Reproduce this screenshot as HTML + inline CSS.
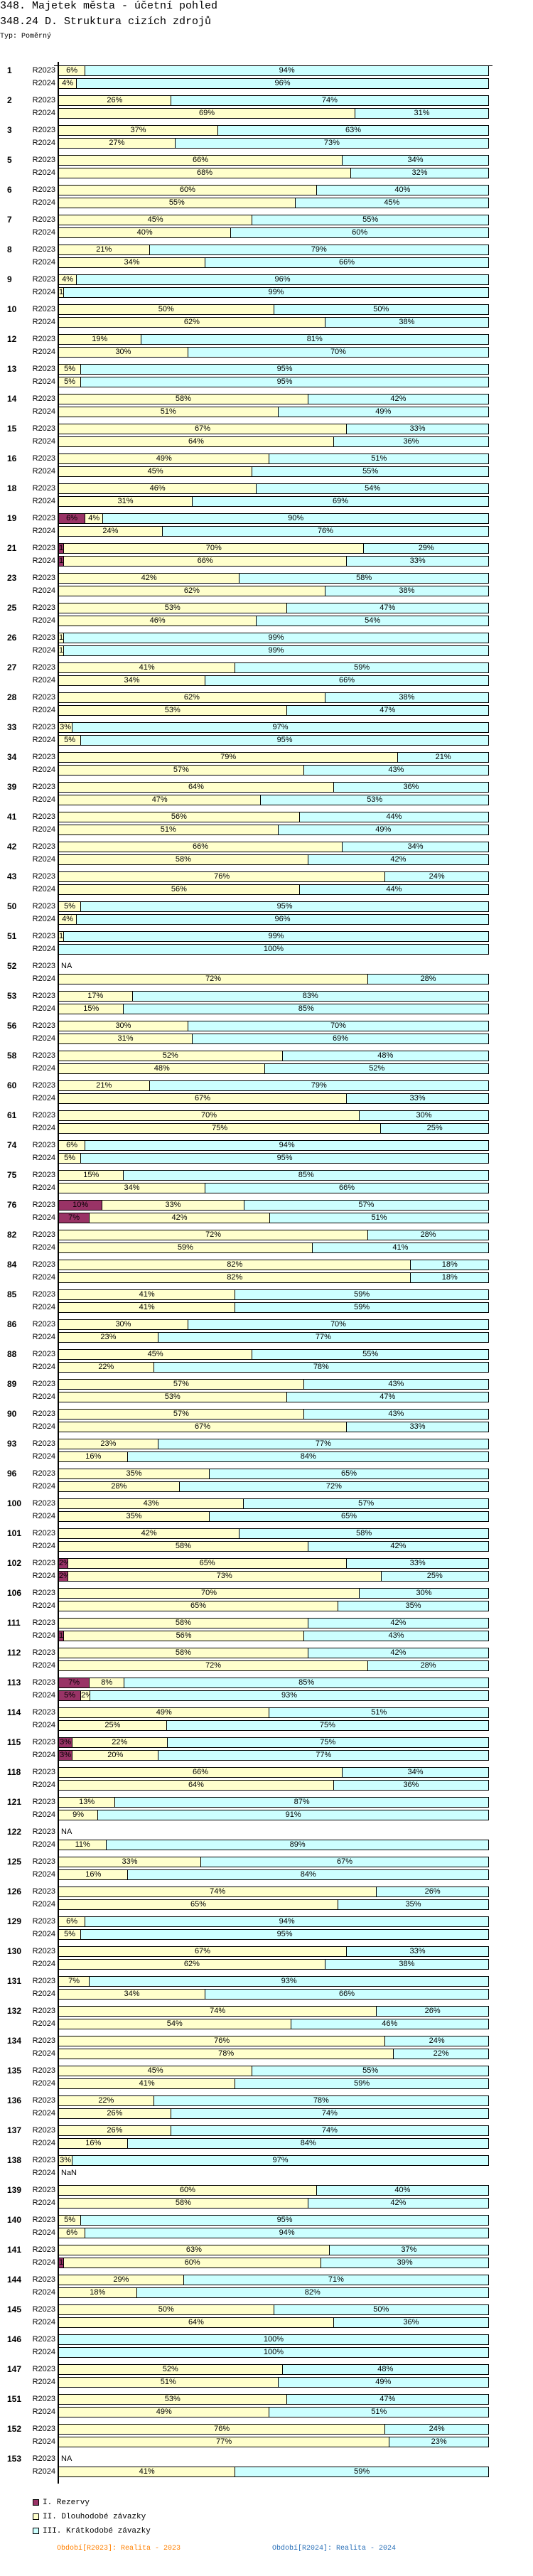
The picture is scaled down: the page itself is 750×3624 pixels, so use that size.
<!DOCTYPE html>
<html><head><meta charset="utf-8">
<style>
*{margin:0;padding:0}
body{width:750px;height:3624px;background:#fff;position:relative;overflow:hidden;font-family:"Liberation Sans",sans-serif;color:#000}
.t{position:absolute;left:0;font-family:"Liberation Mono",monospace;white-space:nowrap}
.g{position:absolute;left:0;width:750px;height:33px}
.g i{position:absolute;left:10px;top:0;font:bold 12px/15px "Liberation Sans",sans-serif;font-style:normal}
.g p{position:relative;height:15px;margin:0 0 3px}
.g u{position:absolute;right:672px;top:0;text-decoration:none;font-size:11px;line-height:15px}
.g b{position:absolute;left:82px;top:0;width:606px;height:15px;box-sizing:border-box;border:1px solid #000;display:flex;font-weight:normal}
.g s{text-decoration:none;flex-basis:0;min-width:0;text-align:center;font-size:11px;line-height:13px;white-space:nowrap;overflow:visible}
.g s+s{border-left:1px solid #000}
.y{background:#ffffcc}.c{background:#ccffff}.m{background:#993366}
.na{position:absolute;left:86px;top:0;font-size:11px;line-height:15px}
.lg{position:absolute;left:46px;width:7px;height:7px;border:1px solid #000}
</style></head><body>
<div class="t" style="top:0;font-size:15px;line-height:17px">348. Majetek města - účetní pohled</div>
<div class="t" style="top:22px;font-size:15px;line-height:17px">348.24 D. Struktura cizích zdrojů</div>
<div class="t" style="top:46px;font-size:10px;line-height:12px">Typ: Poměrný</div>
<div style="position:absolute;left:81px;top:87px;width:2px;height:3407px;background:#000"></div>
<div style="position:absolute;left:76px;top:92px;width:617px;height:1px;background:#000"></div>

<div class="g" style="top:92px"><i>1</i><p><u>R2023</u><b><s class=y style="flex-grow:6">6%</s><s class=c style="flex-grow:94">94%</s></b></p><p><u>R2024</u><b><s class=y style="flex-grow:4">4%</s><s class=c style="flex-grow:96">96%</s></b></p></div>
<div class="g" style="top:134px"><i>2</i><p><u>R2023</u><b><s class=y style="flex-grow:26">26%</s><s class=c style="flex-grow:74">74%</s></b></p><p><u>R2024</u><b><s class=y style="flex-grow:69">69%</s><s class=c style="flex-grow:31">31%</s></b></p></div>
<div class="g" style="top:176px"><i>3</i><p><u>R2023</u><b><s class=y style="flex-grow:37">37%</s><s class=c style="flex-grow:63">63%</s></b></p><p><u>R2024</u><b><s class=y style="flex-grow:27">27%</s><s class=c style="flex-grow:73">73%</s></b></p></div>
<div class="g" style="top:218px"><i>5</i><p><u>R2023</u><b><s class=y style="flex-grow:66">66%</s><s class=c style="flex-grow:34">34%</s></b></p><p><u>R2024</u><b><s class=y style="flex-grow:68">68%</s><s class=c style="flex-grow:32">32%</s></b></p></div>
<div class="g" style="top:260px"><i>6</i><p><u>R2023</u><b><s class=y style="flex-grow:60">60%</s><s class=c style="flex-grow:40">40%</s></b></p><p><u>R2024</u><b><s class=y style="flex-grow:55">55%</s><s class=c style="flex-grow:45">45%</s></b></p></div>
<div class="g" style="top:302px"><i>7</i><p><u>R2023</u><b><s class=y style="flex-grow:45">45%</s><s class=c style="flex-grow:55">55%</s></b></p><p><u>R2024</u><b><s class=y style="flex-grow:40">40%</s><s class=c style="flex-grow:60">60%</s></b></p></div>
<div class="g" style="top:344px"><i>8</i><p><u>R2023</u><b><s class=y style="flex-grow:21">21%</s><s class=c style="flex-grow:79">79%</s></b></p><p><u>R2024</u><b><s class=y style="flex-grow:34">34%</s><s class=c style="flex-grow:66">66%</s></b></p></div>
<div class="g" style="top:386px"><i>9</i><p><u>R2023</u><b><s class=y style="flex-grow:4">4%</s><s class=c style="flex-grow:96">96%</s></b></p><p><u>R2024</u><b><s class=y style="flex-grow:1">1%</s><s class=c style="flex-grow:99">99%</s></b></p></div>
<div class="g" style="top:428px"><i>10</i><p><u>R2023</u><b><s class=y style="flex-grow:50">50%</s><s class=c style="flex-grow:50">50%</s></b></p><p><u>R2024</u><b><s class=y style="flex-grow:62">62%</s><s class=c style="flex-grow:38">38%</s></b></p></div>
<div class="g" style="top:470px"><i>12</i><p><u>R2023</u><b><s class=y style="flex-grow:19">19%</s><s class=c style="flex-grow:81">81%</s></b></p><p><u>R2024</u><b><s class=y style="flex-grow:30">30%</s><s class=c style="flex-grow:70">70%</s></b></p></div>
<div class="g" style="top:512px"><i>13</i><p><u>R2023</u><b><s class=y style="flex-grow:5">5%</s><s class=c style="flex-grow:95">95%</s></b></p><p><u>R2024</u><b><s class=y style="flex-grow:5">5%</s><s class=c style="flex-grow:95">95%</s></b></p></div>
<div class="g" style="top:554px"><i>14</i><p><u>R2023</u><b><s class=y style="flex-grow:58">58%</s><s class=c style="flex-grow:42">42%</s></b></p><p><u>R2024</u><b><s class=y style="flex-grow:51">51%</s><s class=c style="flex-grow:49">49%</s></b></p></div>
<div class="g" style="top:596px"><i>15</i><p><u>R2023</u><b><s class=y style="flex-grow:67">67%</s><s class=c style="flex-grow:33">33%</s></b></p><p><u>R2024</u><b><s class=y style="flex-grow:64">64%</s><s class=c style="flex-grow:36">36%</s></b></p></div>
<div class="g" style="top:638px"><i>16</i><p><u>R2023</u><b><s class=y style="flex-grow:49">49%</s><s class=c style="flex-grow:51">51%</s></b></p><p><u>R2024</u><b><s class=y style="flex-grow:45">45%</s><s class=c style="flex-grow:55">55%</s></b></p></div>
<div class="g" style="top:680px"><i>18</i><p><u>R2023</u><b><s class=y style="flex-grow:46">46%</s><s class=c style="flex-grow:54">54%</s></b></p><p><u>R2024</u><b><s class=y style="flex-grow:31">31%</s><s class=c style="flex-grow:69">69%</s></b></p></div>
<div class="g" style="top:722px"><i>19</i><p><u>R2023</u><b><s class=m style="flex-grow:6">6%</s><s class=y style="flex-grow:4">4%</s><s class=c style="flex-grow:90">90%</s></b></p><p><u>R2024</u><b><s class=y style="flex-grow:24">24%</s><s class=c style="flex-grow:76">76%</s></b></p></div>
<div class="g" style="top:764px"><i>21</i><p><u>R2023</u><b><s class=m style="flex-grow:1">1%</s><s class=y style="flex-grow:70">70%</s><s class=c style="flex-grow:29">29%</s></b></p><p><u>R2024</u><b><s class=m style="flex-grow:1">1%</s><s class=y style="flex-grow:66">66%</s><s class=c style="flex-grow:33">33%</s></b></p></div>
<div class="g" style="top:806px"><i>23</i><p><u>R2023</u><b><s class=y style="flex-grow:42">42%</s><s class=c style="flex-grow:58">58%</s></b></p><p><u>R2024</u><b><s class=y style="flex-grow:62">62%</s><s class=c style="flex-grow:38">38%</s></b></p></div>
<div class="g" style="top:848px"><i>25</i><p><u>R2023</u><b><s class=y style="flex-grow:53">53%</s><s class=c style="flex-grow:47">47%</s></b></p><p><u>R2024</u><b><s class=y style="flex-grow:46">46%</s><s class=c style="flex-grow:54">54%</s></b></p></div>
<div class="g" style="top:890px"><i>26</i><p><u>R2023</u><b><s class=y style="flex-grow:1">1%</s><s class=c style="flex-grow:99">99%</s></b></p><p><u>R2024</u><b><s class=y style="flex-grow:1">1%</s><s class=c style="flex-grow:99">99%</s></b></p></div>
<div class="g" style="top:932px"><i>27</i><p><u>R2023</u><b><s class=y style="flex-grow:41">41%</s><s class=c style="flex-grow:59">59%</s></b></p><p><u>R2024</u><b><s class=y style="flex-grow:34">34%</s><s class=c style="flex-grow:66">66%</s></b></p></div>
<div class="g" style="top:974px"><i>28</i><p><u>R2023</u><b><s class=y style="flex-grow:62">62%</s><s class=c style="flex-grow:38">38%</s></b></p><p><u>R2024</u><b><s class=y style="flex-grow:53">53%</s><s class=c style="flex-grow:47">47%</s></b></p></div>
<div class="g" style="top:1016px"><i>33</i><p><u>R2023</u><b><s class=y style="flex-grow:3">3%</s><s class=c style="flex-grow:97">97%</s></b></p><p><u>R2024</u><b><s class=y style="flex-grow:5">5%</s><s class=c style="flex-grow:95">95%</s></b></p></div>
<div class="g" style="top:1058px"><i>34</i><p><u>R2023</u><b><s class=y style="flex-grow:79">79%</s><s class=c style="flex-grow:21">21%</s></b></p><p><u>R2024</u><b><s class=y style="flex-grow:57">57%</s><s class=c style="flex-grow:43">43%</s></b></p></div>
<div class="g" style="top:1100px"><i>39</i><p><u>R2023</u><b><s class=y style="flex-grow:64">64%</s><s class=c style="flex-grow:36">36%</s></b></p><p><u>R2024</u><b><s class=y style="flex-grow:47">47%</s><s class=c style="flex-grow:53">53%</s></b></p></div>
<div class="g" style="top:1142px"><i>41</i><p><u>R2023</u><b><s class=y style="flex-grow:56">56%</s><s class=c style="flex-grow:44">44%</s></b></p><p><u>R2024</u><b><s class=y style="flex-grow:51">51%</s><s class=c style="flex-grow:49">49%</s></b></p></div>
<div class="g" style="top:1184px"><i>42</i><p><u>R2023</u><b><s class=y style="flex-grow:66">66%</s><s class=c style="flex-grow:34">34%</s></b></p><p><u>R2024</u><b><s class=y style="flex-grow:58">58%</s><s class=c style="flex-grow:42">42%</s></b></p></div>
<div class="g" style="top:1226px"><i>43</i><p><u>R2023</u><b><s class=y style="flex-grow:76">76%</s><s class=c style="flex-grow:24">24%</s></b></p><p><u>R2024</u><b><s class=y style="flex-grow:56">56%</s><s class=c style="flex-grow:44">44%</s></b></p></div>
<div class="g" style="top:1268px"><i>50</i><p><u>R2023</u><b><s class=y style="flex-grow:5">5%</s><s class=c style="flex-grow:95">95%</s></b></p><p><u>R2024</u><b><s class=y style="flex-grow:4">4%</s><s class=c style="flex-grow:96">96%</s></b></p></div>
<div class="g" style="top:1310px"><i>51</i><p><u>R2023</u><b><s class=y style="flex-grow:1">1%</s><s class=c style="flex-grow:99">99%</s></b></p><p><u>R2024</u><b><s class=c style="flex-grow:100">100%</s></b></p></div>
<div class="g" style="top:1352px"><i>52</i><p><u>R2023</u><span class="na">NA</span></p><p><u>R2024</u><b><s class=y style="flex-grow:72">72%</s><s class=c style="flex-grow:28">28%</s></b></p></div>
<div class="g" style="top:1394px"><i>53</i><p><u>R2023</u><b><s class=y style="flex-grow:17">17%</s><s class=c style="flex-grow:83">83%</s></b></p><p><u>R2024</u><b><s class=y style="flex-grow:15">15%</s><s class=c style="flex-grow:85">85%</s></b></p></div>
<div class="g" style="top:1436px"><i>56</i><p><u>R2023</u><b><s class=y style="flex-grow:30">30%</s><s class=c style="flex-grow:70">70%</s></b></p><p><u>R2024</u><b><s class=y style="flex-grow:31">31%</s><s class=c style="flex-grow:69">69%</s></b></p></div>
<div class="g" style="top:1478px"><i>58</i><p><u>R2023</u><b><s class=y style="flex-grow:52">52%</s><s class=c style="flex-grow:48">48%</s></b></p><p><u>R2024</u><b><s class=y style="flex-grow:48">48%</s><s class=c style="flex-grow:52">52%</s></b></p></div>
<div class="g" style="top:1520px"><i>60</i><p><u>R2023</u><b><s class=y style="flex-grow:21">21%</s><s class=c style="flex-grow:79">79%</s></b></p><p><u>R2024</u><b><s class=y style="flex-grow:67">67%</s><s class=c style="flex-grow:33">33%</s></b></p></div>
<div class="g" style="top:1562px"><i>61</i><p><u>R2023</u><b><s class=y style="flex-grow:70">70%</s><s class=c style="flex-grow:30">30%</s></b></p><p><u>R2024</u><b><s class=y style="flex-grow:75">75%</s><s class=c style="flex-grow:25">25%</s></b></p></div>
<div class="g" style="top:1604px"><i>74</i><p><u>R2023</u><b><s class=y style="flex-grow:6">6%</s><s class=c style="flex-grow:94">94%</s></b></p><p><u>R2024</u><b><s class=y style="flex-grow:5">5%</s><s class=c style="flex-grow:95">95%</s></b></p></div>
<div class="g" style="top:1646px"><i>75</i><p><u>R2023</u><b><s class=y style="flex-grow:15">15%</s><s class=c style="flex-grow:85">85%</s></b></p><p><u>R2024</u><b><s class=y style="flex-grow:34">34%</s><s class=c style="flex-grow:66">66%</s></b></p></div>
<div class="g" style="top:1688px"><i>76</i><p><u>R2023</u><b><s class=m style="flex-grow:10">10%</s><s class=y style="flex-grow:33">33%</s><s class=c style="flex-grow:57">57%</s></b></p><p><u>R2024</u><b><s class=m style="flex-grow:7">7%</s><s class=y style="flex-grow:42">42%</s><s class=c style="flex-grow:51">51%</s></b></p></div>
<div class="g" style="top:1730px"><i>82</i><p><u>R2023</u><b><s class=y style="flex-grow:72">72%</s><s class=c style="flex-grow:28">28%</s></b></p><p><u>R2024</u><b><s class=y style="flex-grow:59">59%</s><s class=c style="flex-grow:41">41%</s></b></p></div>
<div class="g" style="top:1772px"><i>84</i><p><u>R2023</u><b><s class=y style="flex-grow:82">82%</s><s class=c style="flex-grow:18">18%</s></b></p><p><u>R2024</u><b><s class=y style="flex-grow:82">82%</s><s class=c style="flex-grow:18">18%</s></b></p></div>
<div class="g" style="top:1814px"><i>85</i><p><u>R2023</u><b><s class=y style="flex-grow:41">41%</s><s class=c style="flex-grow:59">59%</s></b></p><p><u>R2024</u><b><s class=y style="flex-grow:41">41%</s><s class=c style="flex-grow:59">59%</s></b></p></div>
<div class="g" style="top:1856px"><i>86</i><p><u>R2023</u><b><s class=y style="flex-grow:30">30%</s><s class=c style="flex-grow:70">70%</s></b></p><p><u>R2024</u><b><s class=y style="flex-grow:23">23%</s><s class=c style="flex-grow:77">77%</s></b></p></div>
<div class="g" style="top:1898px"><i>88</i><p><u>R2023</u><b><s class=y style="flex-grow:45">45%</s><s class=c style="flex-grow:55">55%</s></b></p><p><u>R2024</u><b><s class=y style="flex-grow:22">22%</s><s class=c style="flex-grow:78">78%</s></b></p></div>
<div class="g" style="top:1940px"><i>89</i><p><u>R2023</u><b><s class=y style="flex-grow:57">57%</s><s class=c style="flex-grow:43">43%</s></b></p><p><u>R2024</u><b><s class=y style="flex-grow:53">53%</s><s class=c style="flex-grow:47">47%</s></b></p></div>
<div class="g" style="top:1982px"><i>90</i><p><u>R2023</u><b><s class=y style="flex-grow:57">57%</s><s class=c style="flex-grow:43">43%</s></b></p><p><u>R2024</u><b><s class=y style="flex-grow:67">67%</s><s class=c style="flex-grow:33">33%</s></b></p></div>
<div class="g" style="top:2024px"><i>93</i><p><u>R2023</u><b><s class=y style="flex-grow:23">23%</s><s class=c style="flex-grow:77">77%</s></b></p><p><u>R2024</u><b><s class=y style="flex-grow:16">16%</s><s class=c style="flex-grow:84">84%</s></b></p></div>
<div class="g" style="top:2066px"><i>96</i><p><u>R2023</u><b><s class=y style="flex-grow:35">35%</s><s class=c style="flex-grow:65">65%</s></b></p><p><u>R2024</u><b><s class=y style="flex-grow:28">28%</s><s class=c style="flex-grow:72">72%</s></b></p></div>
<div class="g" style="top:2108px"><i>100</i><p><u>R2023</u><b><s class=y style="flex-grow:43">43%</s><s class=c style="flex-grow:57">57%</s></b></p><p><u>R2024</u><b><s class=y style="flex-grow:35">35%</s><s class=c style="flex-grow:65">65%</s></b></p></div>
<div class="g" style="top:2150px"><i>101</i><p><u>R2023</u><b><s class=y style="flex-grow:42">42%</s><s class=c style="flex-grow:58">58%</s></b></p><p><u>R2024</u><b><s class=y style="flex-grow:58">58%</s><s class=c style="flex-grow:42">42%</s></b></p></div>
<div class="g" style="top:2192px"><i>102</i><p><u>R2023</u><b><s class=m style="flex-grow:2">2%</s><s class=y style="flex-grow:65">65%</s><s class=c style="flex-grow:33">33%</s></b></p><p><u>R2024</u><b><s class=m style="flex-grow:2">2%</s><s class=y style="flex-grow:73">73%</s><s class=c style="flex-grow:25">25%</s></b></p></div>
<div class="g" style="top:2234px"><i>106</i><p><u>R2023</u><b><s class=y style="flex-grow:70">70%</s><s class=c style="flex-grow:30">30%</s></b></p><p><u>R2024</u><b><s class=y style="flex-grow:65">65%</s><s class=c style="flex-grow:35">35%</s></b></p></div>
<div class="g" style="top:2276px"><i>111</i><p><u>R2023</u><b><s class=y style="flex-grow:58">58%</s><s class=c style="flex-grow:42">42%</s></b></p><p><u>R2024</u><b><s class=m style="flex-grow:1">1%</s><s class=y style="flex-grow:56">56%</s><s class=c style="flex-grow:43">43%</s></b></p></div>
<div class="g" style="top:2318px"><i>112</i><p><u>R2023</u><b><s class=y style="flex-grow:58">58%</s><s class=c style="flex-grow:42">42%</s></b></p><p><u>R2024</u><b><s class=y style="flex-grow:72">72%</s><s class=c style="flex-grow:28">28%</s></b></p></div>
<div class="g" style="top:2360px"><i>113</i><p><u>R2023</u><b><s class=m style="flex-grow:7">7%</s><s class=y style="flex-grow:8">8%</s><s class=c style="flex-grow:85">85%</s></b></p><p><u>R2024</u><b><s class=m style="flex-grow:5">5%</s><s class=y style="flex-grow:2">2%</s><s class=c style="flex-grow:93">93%</s></b></p></div>
<div class="g" style="top:2402px"><i>114</i><p><u>R2023</u><b><s class=y style="flex-grow:49">49%</s><s class=c style="flex-grow:51">51%</s></b></p><p><u>R2024</u><b><s class=y style="flex-grow:25">25%</s><s class=c style="flex-grow:75">75%</s></b></p></div>
<div class="g" style="top:2444px"><i>115</i><p><u>R2023</u><b><s class=m style="flex-grow:3">3%</s><s class=y style="flex-grow:22">22%</s><s class=c style="flex-grow:75">75%</s></b></p><p><u>R2024</u><b><s class=m style="flex-grow:3">3%</s><s class=y style="flex-grow:20">20%</s><s class=c style="flex-grow:77">77%</s></b></p></div>
<div class="g" style="top:2486px"><i>118</i><p><u>R2023</u><b><s class=y style="flex-grow:66">66%</s><s class=c style="flex-grow:34">34%</s></b></p><p><u>R2024</u><b><s class=y style="flex-grow:64">64%</s><s class=c style="flex-grow:36">36%</s></b></p></div>
<div class="g" style="top:2528px"><i>121</i><p><u>R2023</u><b><s class=y style="flex-grow:13">13%</s><s class=c style="flex-grow:87">87%</s></b></p><p><u>R2024</u><b><s class=y style="flex-grow:9">9%</s><s class=c style="flex-grow:91">91%</s></b></p></div>
<div class="g" style="top:2570px"><i>122</i><p><u>R2023</u><span class="na">NA</span></p><p><u>R2024</u><b><s class=y style="flex-grow:11">11%</s><s class=c style="flex-grow:89">89%</s></b></p></div>
<div class="g" style="top:2612px"><i>125</i><p><u>R2023</u><b><s class=y style="flex-grow:33">33%</s><s class=c style="flex-grow:67">67%</s></b></p><p><u>R2024</u><b><s class=y style="flex-grow:16">16%</s><s class=c style="flex-grow:84">84%</s></b></p></div>
<div class="g" style="top:2654px"><i>126</i><p><u>R2023</u><b><s class=y style="flex-grow:74">74%</s><s class=c style="flex-grow:26">26%</s></b></p><p><u>R2024</u><b><s class=y style="flex-grow:65">65%</s><s class=c style="flex-grow:35">35%</s></b></p></div>
<div class="g" style="top:2696px"><i>129</i><p><u>R2023</u><b><s class=y style="flex-grow:6">6%</s><s class=c style="flex-grow:94">94%</s></b></p><p><u>R2024</u><b><s class=y style="flex-grow:5">5%</s><s class=c style="flex-grow:95">95%</s></b></p></div>
<div class="g" style="top:2738px"><i>130</i><p><u>R2023</u><b><s class=y style="flex-grow:67">67%</s><s class=c style="flex-grow:33">33%</s></b></p><p><u>R2024</u><b><s class=y style="flex-grow:62">62%</s><s class=c style="flex-grow:38">38%</s></b></p></div>
<div class="g" style="top:2780px"><i>131</i><p><u>R2023</u><b><s class=y style="flex-grow:7">7%</s><s class=c style="flex-grow:93">93%</s></b></p><p><u>R2024</u><b><s class=y style="flex-grow:34">34%</s><s class=c style="flex-grow:66">66%</s></b></p></div>
<div class="g" style="top:2822px"><i>132</i><p><u>R2023</u><b><s class=y style="flex-grow:74">74%</s><s class=c style="flex-grow:26">26%</s></b></p><p><u>R2024</u><b><s class=y style="flex-grow:54">54%</s><s class=c style="flex-grow:46">46%</s></b></p></div>
<div class="g" style="top:2864px"><i>134</i><p><u>R2023</u><b><s class=y style="flex-grow:76">76%</s><s class=c style="flex-grow:24">24%</s></b></p><p><u>R2024</u><b><s class=y style="flex-grow:78">78%</s><s class=c style="flex-grow:22">22%</s></b></p></div>
<div class="g" style="top:2906px"><i>135</i><p><u>R2023</u><b><s class=y style="flex-grow:45">45%</s><s class=c style="flex-grow:55">55%</s></b></p><p><u>R2024</u><b><s class=y style="flex-grow:41">41%</s><s class=c style="flex-grow:59">59%</s></b></p></div>
<div class="g" style="top:2948px"><i>136</i><p><u>R2023</u><b><s class=y style="flex-grow:22">22%</s><s class=c style="flex-grow:78">78%</s></b></p><p><u>R2024</u><b><s class=y style="flex-grow:26">26%</s><s class=c style="flex-grow:74">74%</s></b></p></div>
<div class="g" style="top:2990px"><i>137</i><p><u>R2023</u><b><s class=y style="flex-grow:26">26%</s><s class=c style="flex-grow:74">74%</s></b></p><p><u>R2024</u><b><s class=y style="flex-grow:16">16%</s><s class=c style="flex-grow:84">84%</s></b></p></div>
<div class="g" style="top:3032px"><i>138</i><p><u>R2023</u><b><s class=y style="flex-grow:3">3%</s><s class=c style="flex-grow:97">97%</s></b></p><p><u>R2024</u><span class="na">NaN</span></p></div>
<div class="g" style="top:3074px"><i>139</i><p><u>R2023</u><b><s class=y style="flex-grow:60">60%</s><s class=c style="flex-grow:40">40%</s></b></p><p><u>R2024</u><b><s class=y style="flex-grow:58">58%</s><s class=c style="flex-grow:42">42%</s></b></p></div>
<div class="g" style="top:3116px"><i>140</i><p><u>R2023</u><b><s class=y style="flex-grow:5">5%</s><s class=c style="flex-grow:95">95%</s></b></p><p><u>R2024</u><b><s class=y style="flex-grow:6">6%</s><s class=c style="flex-grow:94">94%</s></b></p></div>
<div class="g" style="top:3158px"><i>141</i><p><u>R2023</u><b><s class=y style="flex-grow:63">63%</s><s class=c style="flex-grow:37">37%</s></b></p><p><u>R2024</u><b><s class=m style="flex-grow:1">1%</s><s class=y style="flex-grow:60">60%</s><s class=c style="flex-grow:39">39%</s></b></p></div>
<div class="g" style="top:3200px"><i>144</i><p><u>R2023</u><b><s class=y style="flex-grow:29">29%</s><s class=c style="flex-grow:71">71%</s></b></p><p><u>R2024</u><b><s class=y style="flex-grow:18">18%</s><s class=c style="flex-grow:82">82%</s></b></p></div>
<div class="g" style="top:3242px"><i>145</i><p><u>R2023</u><b><s class=y style="flex-grow:50">50%</s><s class=c style="flex-grow:50">50%</s></b></p><p><u>R2024</u><b><s class=y style="flex-grow:64">64%</s><s class=c style="flex-grow:36">36%</s></b></p></div>
<div class="g" style="top:3284px"><i>146</i><p><u>R2023</u><b><s class=c style="flex-grow:100">100%</s></b></p><p><u>R2024</u><b><s class=c style="flex-grow:100">100%</s></b></p></div>
<div class="g" style="top:3326px"><i>147</i><p><u>R2023</u><b><s class=y style="flex-grow:52">52%</s><s class=c style="flex-grow:48">48%</s></b></p><p><u>R2024</u><b><s class=y style="flex-grow:51">51%</s><s class=c style="flex-grow:49">49%</s></b></p></div>
<div class="g" style="top:3368px"><i>151</i><p><u>R2023</u><b><s class=y style="flex-grow:53">53%</s><s class=c style="flex-grow:47">47%</s></b></p><p><u>R2024</u><b><s class=y style="flex-grow:49">49%</s><s class=c style="flex-grow:51">51%</s></b></p></div>
<div class="g" style="top:3410px"><i>152</i><p><u>R2023</u><b><s class=y style="flex-grow:76">76%</s><s class=c style="flex-grow:24">24%</s></b></p><p><u>R2024</u><b><s class=y style="flex-grow:77">77%</s><s class=c style="flex-grow:23">23%</s></b></p></div>
<div class="g" style="top:3452px"><i>153</i><p><u>R2023</u><span class="na">NA</span></p><p><u>R2024</u><b><s class=y style="flex-grow:41">41%</s><s class=c style="flex-grow:59">59%</s></b></p></div>

<div class="lg m" style="top:3516px"></div>
<div class="t" style="left:60px;top:3514px;font-size:11px;line-height:14px">I. Rezervy</div>
<div class="lg y" style="top:3536px"></div>
<div class="t" style="left:60px;top:3534px;font-size:11px;line-height:14px">II. Dlouhodobé závazky</div>
<div class="lg c" style="top:3556px"></div>
<div class="t" style="left:60px;top:3554px;font-size:11px;line-height:14px">III. Krátkodobé závazky</div>
<div class="t" style="left:80px;top:3579px;font-size:10px;line-height:14px;color:#ff8000">Období[R2023]: Realita - 2023</div>
<div class="t" style="left:383px;top:3579px;font-size:10px;line-height:14px;color:#2a70b8">Období[R2024]: Realita - 2024</div>
</body></html>
